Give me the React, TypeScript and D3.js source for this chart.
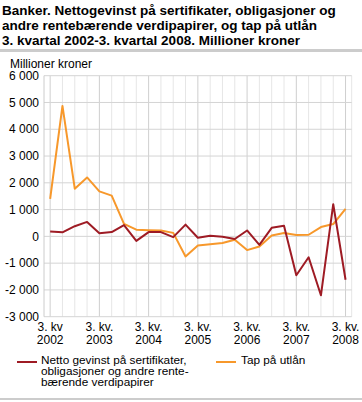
import React from "react";
import * as d3 from "d3";

const quarters: string[] = [
  "2002K3","2002K4","2003K1","2003K2","2003K3","2003K4","2004K1","2004K2","2004K3","2004K4",
  "2005K1","2005K2","2005K3","2005K4","2006K1","2006K2","2006K3","2006K4","2007K1","2007K2",
  "2007K3","2007K4","2008K1","2008K2","2008K3"
];
const nettoGevinst: number[] = [
  180, 150, 380, 540, 120, 160, 420, -170, 160, 160,
  -30, 440, -50, 20, -15, -100, 220, -320, 320, 400,
  -1450, -780, -2200, 1200, -1620
];
const tapPaUtlan: number[] = [
  1400, 4870, 1780, 2200, 1680, 1520, 470, 250, 230, 220,
  130, -750, -340, -290, -250, -127, -513, -376, 35, 123,
  48, 60, 347, 459, 1030
];
const yTicks: number[] = [-3000, -2000, -1000, 0, 1000, 2000, 3000, 4000, 5000, 6000];
const xTickLabels: { q: string; l1: string; l2: string }[] = [
  { q: "2002K3", l1: "3. kv", l2: "2002" },
  { q: "2003K3", l1: "3. kv.", l2: "2003" },
  { q: "2004K3", l1: "3. kv.", l2: "2004" },
  { q: "2005K3", l1: "3. kv.", l2: "2005" },
  { q: "2006K3", l1: "3. kv.", l2: "2006" },
  { q: "2007K3", l1: "3. kv.", l2: "2007" },
  { q: "2008K3", l1: "3. kv.", l2: "2008" },
];
const titleLines: string[] = [
  "Banker. Nettogevinst på sertifikater, obligasjoner og",
  "andre rentebærende verdipapirer, og tap på utlån",
  "3. kvartal 2002-3. kvartal 2008. Millioner kroner",
];
const legend1: string[] = [
  "Netto gevinst på sertifikater,",
  "obligasjoner og andre rente-",
  "bærende verdipapirer",
];
const legend2 = "Tap på utlån";

const RED = "#9e1b24";
const ORANGE = "#f7982b";
const FONT = "'Liberation Sans', Arial, Helvetica, sans-serif";

const fmt = (v: number) => {
  const s = Math.abs(v).toString().replace(/\B(?=(\d{3})+(?!\d))/g, " ");
  return (v < 0 ? "-" : "") + s;
};

export default function App() {
  const W = 362, H = 402;
  const left = 44, right = 351.7, top = 75.7, bottom = 316.7;
  const x = d3.scalePoint<string>().domain(quarters).range([left, right]).padding(0.5);
  const y = d3.scaleLinear().domain([-3000, 6000]).range([bottom, top]);
  const line = d3.line<number>().x((_, i) => x(quarters[i]) as number).y((d) => y(d));

  return (
    <svg width={W} height={H} style={{ position: "absolute", left: 0, top: 0, background: "#fff" }} fontFamily={FONT}>
      {titleLines.map((t, i) => (
        <text key={i} x={2} y={15 + i * 15} fontSize={13.5} fontWeight="bold" fill="#000">{t}</text>
      ))}
      <rect x={0} y={49} width={W} height={3} fill="#cccccc" />
      <text x={10} y={67.5} fontSize={12} fill="#000">Millioner kroner</text>

      {quarters.map((q, i) => {
        const isYear = i % 4 === 0;
        return (
          <line key={q} x1={x(q)} x2={x(q)} y1={top} y2={bottom}
            stroke={isYear ? "#cfcfcf" : "#e6e6e6"} strokeWidth={1} />
        );
      })}
      <line x1={right} x2={right} y1={top} y2={bottom} stroke="#e6e6e6" />
      {yTicks.map((v) => (
        <line key={v} x1={left} x2={right} y1={y(v)} y2={y(v)} stroke="#d4d4d4" strokeWidth={1} />
      ))}
      <line x1={left} x2={left} y1={top} y2={bottom} stroke="#cccccc" strokeWidth={1} />
      {yTicks.map((v) => (
        <text key={v} x={39} y={y(v)} dy="0.35em" textAnchor="end" fontSize={12} fill="#000">{fmt(v)}</text>
      ))}
      {xTickLabels.map((t) => (
        <g key={t.q}>
          <text x={x(t.q)} y={331} textAnchor="middle" fontSize={12} fill="#000">{t.l1}</text>
          <text x={x(t.q)} y={344} textAnchor="middle" fontSize={12} fill="#000">{t.l2}</text>
        </g>
      ))}

      <path d={line(tapPaUtlan) || ""} fill="none" stroke={ORANGE} strokeWidth={2} strokeLinejoin="round" />
      <path d={line(nettoGevinst) || ""} fill="none" stroke={RED} strokeWidth={2} strokeLinejoin="round" />

      <line x1={17} x2={37} y1={362} y2={362} stroke={RED} strokeWidth={2} />
      {legend1.map((t, i) => (
        <text key={i} x={41} y={363.5 + i * 11} fontSize={11.8} fill="#000">{t}</text>
      ))}
      <line x1={216} x2={236} y1={362} y2={362} stroke={ORANGE} strokeWidth={2} />
      <text x={241} y={363.5} fontSize={11.8} fill="#000">{legend2}</text>

      <rect x={0} y={398} width={W} height={2} fill="#cccccc" />
    </svg>
  );
}
